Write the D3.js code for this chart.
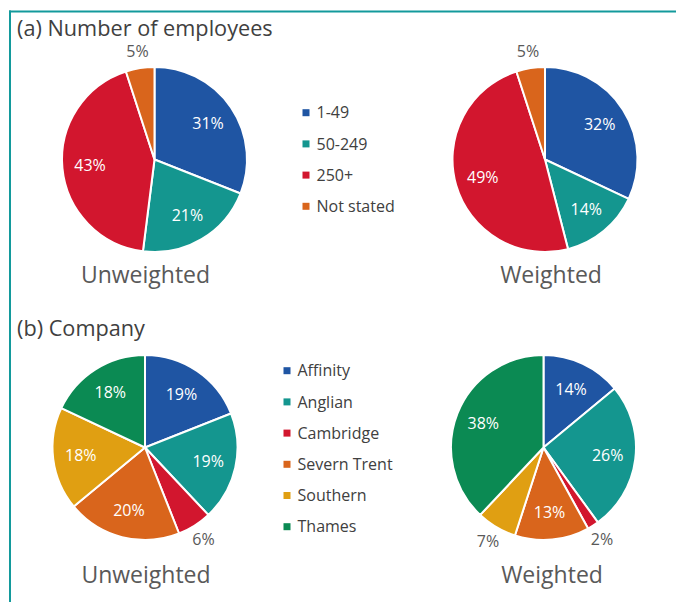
<!DOCTYPE html>
<html><head><meta charset="utf-8">
<script src="https://cdn.jsdelivr.net/npm/d3@7"></script>
<style>html,body{margin:0;padding:0;background:#fff}svg{display:block}</style>
</head><body>
<script>
const employeeCategories = ["1-49", "50-249", "250+", "Not stated"];
const employeeUnweighted = [31, 21, 43, 5];
const employeeWeighted = [32, 14, 49, 5];
const employeeColors = ["#1f55a3", "#14968f", "#d2162e", "#d9651c"];

const companyCategories = ["Affinity", "Anglian", "Cambridge", "Severn Trent", "Southern", "Thames"];
const companyUnweighted = [19, 19, 6, 20, 18, 18];
const companyWeighted = [14, 26, 2, 13, 7, 38];
const companyColors = ["#1f55a3", "#14968f", "#d2162e", "#d9651c", "#e09f12", "#0b8a53"];

const sectionTitles = ["(a) Number of employees", "(b) Company"];
const pieTitles = ["Unweighted", "Weighted"];

const W = 676, H = 602;
const font = "'Open Sans', 'Noto Sans', sans-serif";
const svg = d3.select("body").append("svg").attr("width", W).attr("height", H);

// frame
svg.append("line").attr("x1", 9).attr("x2", W).attr("y1", 11.5).attr("y2", 11.5)
  .attr("stroke", "#139a9c").attr("stroke-width", 2);
svg.append("line").attr("x1", 10).attr("x2", 10).attr("y1", 10.5).attr("y2", H)
  .attr("stroke", "#139a9c").attr("stroke-width", 2);

const R = 92.5;
const pie = d3.pie().sort(null).value(d => d);
const arc = d3.arc().innerRadius(0).outerRadius(R);

function drawPie(cx, cy, values, colors, title, titleX, titleY) {
  const g = svg.append("g").attr("transform", `translate(${cx},${cy})`);
  const arcs = pie(values);
  g.selectAll("path").data(arcs).join("path")
    .attr("d", arc).attr("fill", (d, i) => colors[i])
    .attr("stroke", "#fff").attr("stroke-width", 2).attr("stroke-linejoin", "round");
  g.selectAll("text.lbl").data(arcs).join("text").attr("class", "lbl")
    .attr("transform", d => {
      const a = (d.startAngle + d.endAngle) / 2;
      const f = d.data < 10 ? 1.18 : 0.7;
      return `translate(${Math.sin(a) * R * f},${-Math.cos(a) * R * f})`;
    })
    .attr("text-anchor", "middle").attr("dy", "0.35em")
    .attr("font-family", font).attr("font-size", 16)
    .attr("fill", d => d.data < 10 ? "#595959" : "#ffffff")
    .text(d => d.data + "%");
  svg.append("text").attr("x", titleX).attr("y", titleY).attr("text-anchor", "middle")
    .attr("font-family", font).attr("font-size", 23).attr("fill", "#595959").text(title);
}

function drawLegend(x, y0, step, cats, colors) {
  const g = svg.append("g");
  cats.forEach((c, i) => {
    const y = y0 + i * step;
    g.append("rect").attr("x", x).attr("y", y - 3.5).attr("width", 7).attr("height", 7).attr("fill", colors[i]);
    g.append("text").attr("x", x + 14).attr("y", y).attr("dy", "0.35em")
      .attr("font-family", font).attr("font-size", 16).attr("fill", "#404040").text(c);
  });
}

svg.append("text").attr("x", 17).attr("y", 36).attr("font-family", font).attr("font-size", 21.7)
  .attr("fill", "#404040").text(sectionTitles[0]);
svg.append("text").attr("x", 17).attr("y", 336).attr("font-family", font).attr("font-size", 21.7)
  .attr("fill", "#404040").text(sectionTitles[1]);

drawPie(154.5, 159.5, employeeUnweighted, employeeColors, pieTitles[0], 145.5, 283);
drawPie(545, 159.5, employeeWeighted, employeeColors, pieTitles[1], 551, 283);
drawPie(145, 447.5, companyUnweighted, companyColors, pieTitles[0], 146, 583);
drawPie(543.5, 447.5, companyWeighted, companyColors, pieTitles[1], 552, 583);

drawLegend(302.5, 112.7, 31.2, employeeCategories, employeeColors);
drawLegend(283.5, 370.7, 31.2, companyCategories, companyColors);
</script>
</body></html>
